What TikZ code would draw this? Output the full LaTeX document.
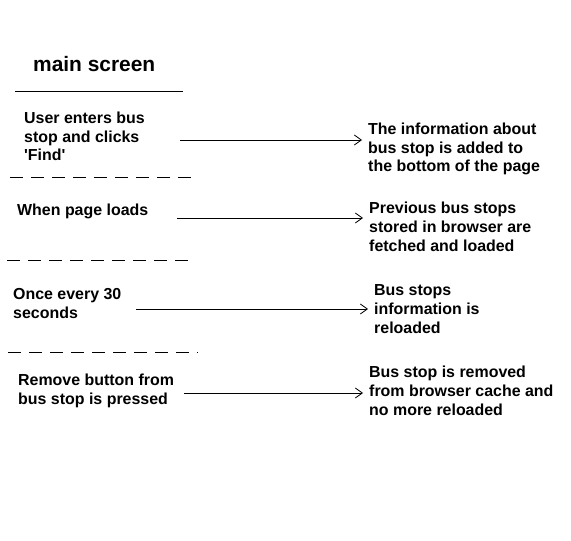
\documentclass[tikz,border=0pt]{standalone}
\usepackage{fontspec}
\setmainfont{Liberation Sans}[Ligatures=TeXOff]
\usepackage{xcolor}
\usepackage{tikz}
\usetikzlibrary{arrows.meta}

\begin{document}
\begin{tikzpicture}[x=1bp,y=-1bp,
        txt/.style={anchor=base west, align=left, inner sep=0pt, font=\bfseries\fontsize{16}{19}\selectfont},
        sepline/.style={line width=0.8bp, dash pattern=on 13bp off 8bp},
        arr/.style={line width=0.8bp, -{Straight Barb[length=7bp,width=10bp]}, shorten >=6bp}]
                    \useasboundingbox (0,0) rectangle (571,541);
                    \node[anchor=base west, inner sep=0pt, font=\bfseries\fontsize{21}{25}\selectfont] (title) at (33,71.5) {main screen};
                    \draw[line width=0.8bp] (15,91) -- (183,91);

                    \node[txt] (ev1) at (24,161) {User enters bus\\stop and clicks\\'Find'};
                    \node[txt] (ev2) at (17,216) {When page loads};
                    \node[txt] (ev3) at (13,318.5) {Once every 30\\seconds};
                    \node[txt] (ev4) at (18,404) {Remove button from\\bus stop is pressed};

                    \node[txt] (res1) at (368,172) {The information about\\bus stop is added to\\the bottom of the page};
                    \node[txt] (res2) at (369,251) {Previous bus stops\\stored in browser are\\fetched and loaded};
                    \node[txt] (res3) at (374,333) {Bus stops\\information is\\reloaded};
                    \node[txt] (res4) at (369,415.5) {Bus stop is removed\\from browser cache and\\no more reloaded};

                    \draw[sepline] (10,177) -- (192,177);
                    \draw[sepline] (7,260) -- (190,260);
                    \draw[sepline] (8,352.5) -- (198,352.5);

                    \coordinate (s1) at (180,140);
                    \coordinate (s2) at (177,218);
                    \coordinate (s3) at (136,309);
                    \coordinate (s4) at (184,393);
                    \draw[arr] (s1) -- (s1 -| res1.west);
                    \draw[arr] (s2) -- (s2 -| res2.west);
                    \draw[arr] (s3) -- (s3 -| res3.west);
                    \draw[arr] (s4) -- (s4 -| res4.west);
                \end{tikzpicture}
\end{document}
